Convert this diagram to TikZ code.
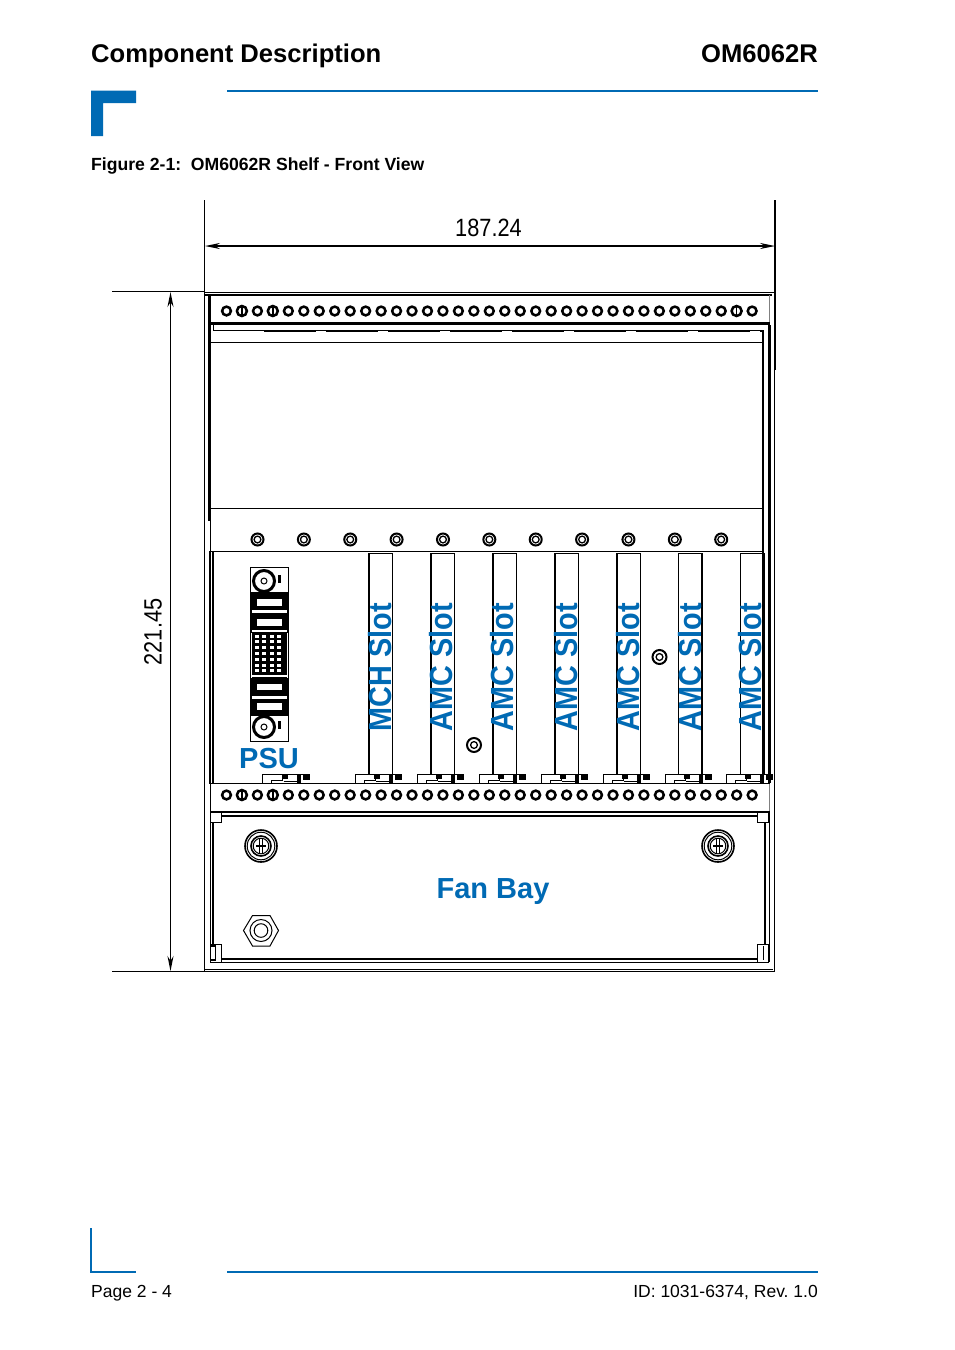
\documentclass[tikz,border=0pt]{standalone}
\usepackage{fontspec}
\setmainfont{Liberation Sans}
\usetikzlibrary{arrows.meta}
\definecolor{kblue}{RGB}{0,106,180}
\frenchspacing

\tikzset{
	thinline/.style={line width=1pt},
	midline/.style={line width=1.6pt},
	hole/.style={line width=2.5pt},
	dimarrow/.style={{Stealth[length=15pt,width=6pt]}-{Stealth[length=15pt,width=6pt]}, line width=1.3pt},
	headtext/.style={inner sep=0pt, font=\fontsize{25.6}{28}\selectfont\bfseries},
	slottext/.style={inner sep=0pt, rotate=90, text=kblue, font=\fontsize{32}{34}\selectfont\bfseries},
	bluetext/.style={inner sep=0pt, text=kblue, font=\fontsize{29}{32}\selectfont\bfseries},
	dimtext/.style={inner sep=0pt, font=\fontsize{25}{27}\selectfont},
	foottext/.style={inner sep=0pt, font=\fontsize{17.5}{20}\selectfont}
}

\begin{document}
\begin{tikzpicture}[x=1pt, y=-1pt]
	\useasboundingbox (0, 0) rectangle (954, 1350);
	\fill[white] (0, 0) rectangle (954, 1350);

	% Page header:
	\node[headtext, anchor=base west] (title) at (91, 62) {Component Description};
	\node[headtext, anchor=base east] (model) at (818, 62) {OM6062R};
	\fill[kblue] (91, 90.5) -- (136, 90.5) -- (136, 103) -- (103, 103) -- (103, 136) -- (91, 136) -- cycle;
	\draw[kblue, midline] (227, 91) -- (818, 91);
	\node[inner sep=0pt, anchor=base west, font=\fontsize{17.6}{20}\selectfont\bfseries] (caption) at (91, 170) {Figure 2-1:\ \ OM6062R Shelf - Front View};

	% Page footer:
	\draw[kblue, midline] (91, 1228) |- (136, 1272);
	\draw[kblue, midline] (227, 1272) -- (818, 1272);
	\node[foottext, anchor=base west] (page) at (91, 1297) {Page 2 - 4};
	\node[foottext, anchor=base east] (docid) at (818, 1297) {ID: 1031-6374, Rev. 1.0};

	% Dimensions:
	\coordinate (widthL) at (205, 246);
	\coordinate (widthR) at (775, 246);
	\coordinate (heightT) at (170.5, 292);
	\coordinate (heightB) at (170.5, 971);
	\draw[dimarrow] (widthL) -- (widthR);
	\draw[dimarrow] (heightT) -- (heightB);
	\draw[thinline] (112, 291.5) -- (205, 291.5);
	\draw[thinline] (112, 971) -- (205, 971);
	\node[dimtext] (width) at (488.5, 228) {\scalebox{0.87}[1]{187.24}};
	\node[dimtext, rotate=90] (height) at (153, 632) {\scalebox{0.87}[1]{221.45}};

	% Shelf outline:
	\draw[thinline] (204.5, 200) -- (204.5, 971);
	\draw[midline] (775, 200) -- (775, 370);
	\draw[thinline] (774.5, 370) -- (774.5, 971);
	\draw[thinline] (205, 292) -- (775, 292);
	\draw[line width=2.2pt] (205, 295) -- (772, 295);
	\draw[thinline] (205, 969) -- (773, 969);
	\draw[thinline] (205, 971) -- (775, 971);
	\draw[line width=0.7pt, gray] (769.5, 295) -- (769.5, 323);

	% Upper panel:
	\draw[line width=2.2pt] (209, 323.5) -- (770, 323.5);
	\draw[line width=3pt] (209.5, 295) -- (209.5, 521);
	\draw[thinline] (210.5, 521) -- (210.5, 551);
	\draw[thinline] (213, 324) |- (763, 330);
	\draw[line width=2pt, dash pattern=on 52pt off 10pt] (264, 331) -- (763, 331);
	\draw[thinline] (210, 342.5) -- (763, 342.5);
	\draw[thinline] (210, 508) -- (763, 508);
	\draw[thinline] (210, 551) -- (763, 551);
	\draw[line width=2pt] (763, 330) -- (763, 783);
	\draw[line width=2.4pt] (769.5, 325) -- (769.5, 783);
	\draw[line width=0.7pt, gray] (769.5, 783) -- (769.5, 811);
	\draw[line width=0.7pt] (210, 783) -- (210, 811);

	% Holes:
	\foreach \i in {0,...,34} {
		\draw[hole, fill=white] ({226.5+15.46*\i}, 311) circle (4.4);
		\draw[hole, fill=white] ({226.5+15.46*\i}, 795) circle (4.4);
	}
	\foreach \px/\py in {241.9/311, 272.8/311, 736.6/311, 241.9/795, 272.8/795} {
		\draw[hole, fill=white] (\px, \py) circle (5);
		\draw[midline] (\px, {\py-5}) -- (\px, {\py+5});
	}

	% Screws:
	\foreach \i in {0,...,10} {
		\draw[line width=2pt, fill=white] ({257.5+46.37*\i}, 539.5) circle (6);
		\draw[line width=1.3pt] ({257.5+46.37*\i}, 539.5) circle (3.4);
	}
	\foreach \px/\py in {474/745, 659.5/657} {
		\draw[line width=2pt, fill=white] (\px, \py) circle (7);
		\draw[line width=1.3pt] (\px, \py) circle (3.4);
	}

	% Lower panel:
	\draw[midline] (210, 551) -- (210, 783);
	\draw[midline] (213, 551) -- (213, 783);
	\draw[midline] (209, 783.5) -- (770, 783.5);
	\foreach \sx in {369, 431, 493, 555, 617, 678.5, 740.5} {
		\draw[midline] (\sx, 775) |- ({\sx+23.5}, 553.5) -- ({\sx+23.5}, 775);
	}

	% Latches:
	\foreach \lx in {262.5, 355, 417, 479, 541, 603, 665, 726} {
		\draw[thinline, fill=white] (\lx, 783) |- ({\lx+47}, 774.5);
		\draw[thinline] (\lx+9, 783) -- (\lx+9, 780) -- (\lx+20, 780) -- (\lx+20, 775);
		\draw[midline] (\lx+21, 781.5) -- (\lx+38, 781.5);
		\fill (\lx+19, 774.5) rectangle (\lx+25, 779);
		\fill (\lx+34, 774.5) rectangle (\lx+38, 783);
		\fill (\lx+40, 774.5) rectangle (\lx+47, 779.5);
	}

	% PSU connector:
	\draw[thinline] (250.5, 567) rectangle (288, 741);
	\fill (250, 592) rectangle (288, 632.5);
	\fill (250, 677.5) rectangle (288, 716);
	\fill (252, 632) rectangle (287, 678);
	\foreach \wy in {599, 619, 683.5, 703} {
		\fill[white] (257, \wy) rectangle (282, \wy+6.5);
	}
	\foreach \wy in {610, 629.5, 674.5, 696} {
		\fill[white] (252, \wy) rectangle (287, \wy+2.5);
	}
	\foreach \gx in {0,...,3} {
		\foreach \gy in {0,...,6} {
			\fill[white] ({254.5+7.6*\gx}, {634.5+5.8*\gy}) rectangle ({258.5+7.6*\gx}, {637.5+5.8*\gy});
		}
	}
	\foreach \py in {581, 727} {
		\draw[line width=3pt, fill=white] (264, \py) circle (10.5);
		\draw[thinline] (264, \py) circle (3);
		\fill (277.5, \py-6) rectangle (280.5, \py+2);
	}

	% Fan bay:
	\draw[line width=2pt] (210, 811.5) -- (770, 811.5);
	\draw[line width=2pt] (214, 815.5) -- (765, 815.5);
	\draw[thinline] (210, 811) -- (210, 962);
	\draw[line width=2pt] (212.5, 815) -- (212.5, 958);
	\draw[line width=2pt] (765, 815) -- (765, 958);
	\draw[line width=2pt] (212, 958.5) -- (766, 958.5);
	\draw[thinline] (210, 962) -- (769, 962);
	\draw[thinline] (769.5, 811) -- (769.5, 962);
	\draw[thinline, fill=white] (210, 812) rectangle (221.5, 822.5);
	\draw[thinline, fill=white] (757, 812) rectangle (768, 822.5);
	\draw[thinline, fill=white] (210, 944) rectangle (221, 962);
	\draw[thinline, fill=white] (757, 944) rectangle (768, 962);
	\draw[midline] (210.5, 946) rectangle (215.5, 960);
	\draw[midline] (763.5, 946) -- (763.5, 960);
	\foreach \px in {261, 718} {
		\draw[midline] (\px, 846) circle (16);
		\draw[thinline] (\px, 846) circle (13.8);
		\draw[midline] (\px, 846) circle (10);
		\draw[thinline] (\px, 846) circle (7.8);
		\draw[thinline] (\px-1.5, 838) -- (\px-1.5, 854);
		\draw[thinline] (\px+1.5, 838) -- (\px+1.5, 854);
		\fill (\px-5, 845) rectangle (\px+5, 847);
	}
	\draw[thinline] (243.5, 930.5) -- (252.5, 915.5) -- (270, 915.5) -- (278.5, 930.5) -- (270, 946) -- (252.5, 946) -- cycle;
	\draw[thinline] (261, 930.5) circle (11);
	\draw[thinline] (261, 930.5) circle (6.8);

	% Labels:
	\node[slottext] (mch) at (380, 667) {\scalebox{0.9}[1]{MCH Slot}};
	\node[slottext] (amcA) at (441.5, 667) {\scalebox{0.9}[1]{AMC Slot}};
	\node[slottext] (amcB) at (502.5, 667) {\scalebox{0.9}[1]{AMC Slot}};
	\node[slottext] (amcC) at (566, 667) {\scalebox{0.9}[1]{AMC Slot}};
	\node[slottext] (amcD) at (628, 667) {\scalebox{0.9}[1]{AMC Slot}};
	\node[slottext] (amcE) at (690, 667) {\scalebox{0.9}[1]{AMC Slot}};
	\node[slottext] (amcF) at (750.5, 667) {\scalebox{0.9}[1]{AMC Slot}};
	\node[bluetext] (psu) at (269, 758.5) {PSU};
	\node[bluetext] (fan) at (493, 891.5) {Fan Bay};

\end{tikzpicture}
\end{document}
